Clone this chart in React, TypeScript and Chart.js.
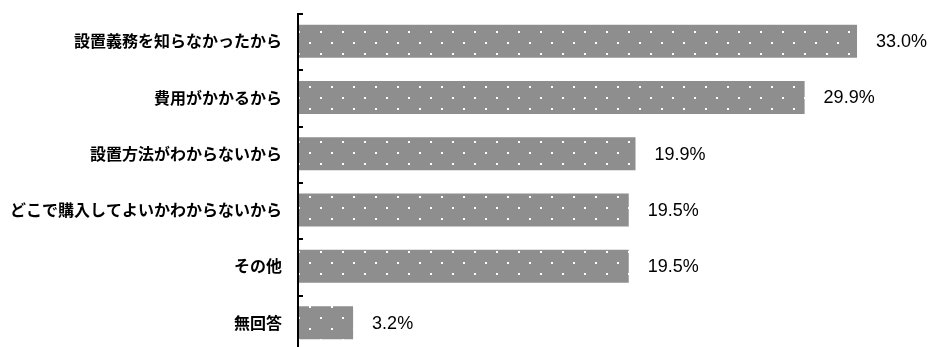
import React, { useEffect, useRef } from "react";
import { Chart, registerables } from "chart.js";

Chart.register(...registerables);

const categories = [
  "設置義務を知らなかったから",
  "費用がかかるから",
  "設置方法がわからないから",
  "どこで購入してよいかわからないから",
  "その他",
  "無回答",
];
const values = [33.0, 29.9, 19.9, 19.5, 19.5, 3.2];
const xMax = 35;

const BAR_GRAY = "#8e8e8e";

function makePattern(ctx: CanvasRenderingContext2D): CanvasPattern | string {
  const c = document.createElement("canvas");
  c.width = 22;
  c.height = 22;
  const p = c.getContext("2d");
  if (!p) return BAR_GRAY;
  p.fillStyle = BAR_GRAY;
  p.fillRect(0, 0, 22, 22);
  p.fillStyle = "#ffffff";
  p.fillRect(12, 9, 2, 2);
  p.fillRect(1, 20, 2, 2);
  return ctx.createPattern(c, "repeat") || BAR_GRAY;
}

const axisPlugin = {
  id: "customAxis",
  afterDatasetsDraw(chart: any) {
    const { ctx, chartArea } = chart;
    const n = categories.length;
    const step = (chartArea.bottom - chartArea.top) / n;
    ctx.save();
    ctx.fillStyle = "#000";
    const ax = chartArea.left - 2;
    ctx.fillRect(ax, chartArea.top, 2, chart.height - chartArea.top);
    for (let i = 0; i <= n; i++) {
      const yy = Math.round(chartArea.top + i * step);
      ctx.fillRect(ax, yy, 6, 2);
    }
    const meta = chart.getDatasetMeta(0);
    ctx.font = '18px "Liberation Sans", Arial, sans-serif';
    ctx.textBaseline = "middle";
    ctx.textAlign = "left";
    meta.data.forEach((bar: any, i: number) => {
      ctx.fillText(values[i].toFixed(1) + "%", bar.x + 19, bar.y + 1);
    });
    ctx.restore();
  },
};

export default function App() {
  const ref = useRef<HTMLCanvasElement | null>(null);
  useEffect(() => {
    const canvas = ref.current;
    if (!canvas) return;
    const ctx = canvas.getContext("2d");
    if (!ctx) return;
    const pattern = makePattern(ctx);
    const chart = new Chart(canvas, {
      type: "bar",
      data: {
        labels: categories,
        datasets: [
          {
            data: values,
            backgroundColor: pattern as any,
            borderWidth: 0,
            barPercentage: 0.586,
            categoryPercentage: 1,
          },
        ],
      },
      options: {
        indexAxis: "y",
        animation: false,
        responsive: false,
        maintainAspectRatio: false,
        layout: { padding: { top: 13, bottom: 1.2, left: 0, right: 942 - (299 + xMax * 16.91) } },
        plugins: { legend: { display: false }, tooltip: { enabled: false } },
        scales: {
          x: {
            min: 0,
            max: xMax,
            display: false,
          },
          y: {
            grid: { display: false, drawTicks: false },
            border: { display: false },
            ticks: {
              padding: 17,
              color: "#000",
              font: { family: '"Noto Sans CJK JP", sans-serif', size: 16, weight: "bold" },
            },
            afterFit: (scale: any) => {
              scale.width = 299;
              scale.paddingTop = 0;
              scale.paddingBottom = 0;
            },
          },
        },
      },
      plugins: [axisPlugin],
    });
    return () => chart.destroy();
  }, []);
  return (
    <div style={{ position: "fixed", left: 0, top: 0, width: 942, height: 347, overflow: "hidden", background: "#fff" }}>
      <canvas ref={ref} width={942} height={352} style={{ display: "block", width: 942, height: 352 }} />
    </div>
  );
}
